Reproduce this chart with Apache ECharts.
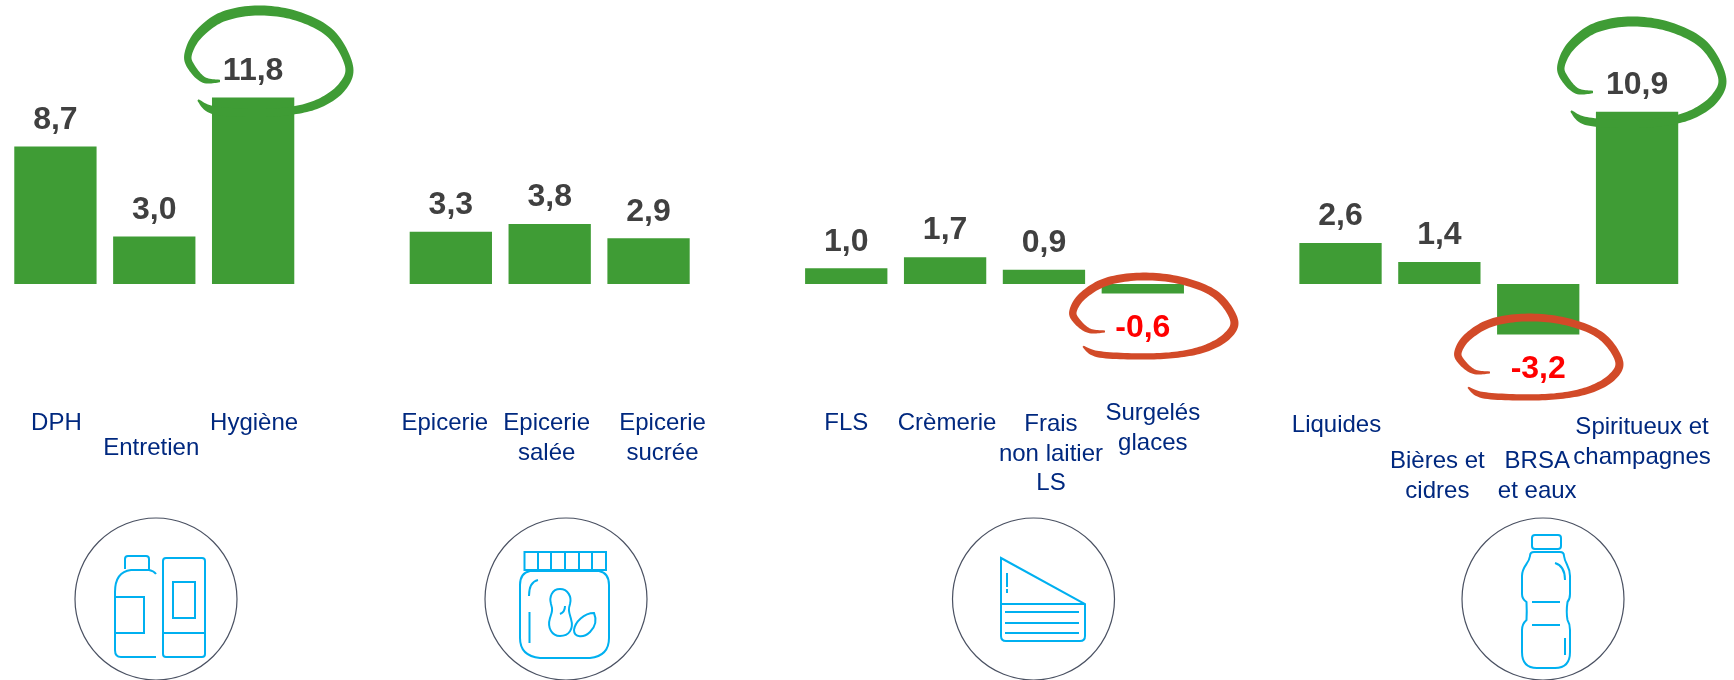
<!DOCTYPE html>
<html>
<head>
<meta charset="utf-8">
<style>
  html, body { margin: 0; padding: 0; background: #ffffff; }
  #main { width: 1734px; height: 680px; }
</style>
<script src="https://cdn.jsdelivr.net/npm/echarts@6/dist/echarts.min.js"></script>
</head>
<body>
<div id="main"></div>
<script>
// les cases vides separent les 4 rayons
const categories = [
  'DPH', 'Entretien', 'Hygiène', '',
  'Epicerie', 'Epicerie\nsalée', 'Epicerie\nsucrée', '',
  'FLS', 'Crèmerie', 'Frais\nnon laitier\nLS', 'Surgelés\nglaces', '',
  'Liquides', 'Bières et\ncidres', 'BRSA\net eaux', 'Spiritueux et\nchampagnes'
];
const values = [
  8.7, 3.0, 11.8, null,
  3.3, 3.8, 2.9, null,
  1.0, 1.7, 0.9, -0.6, null,
  2.6, 1.4, -3.2, 10.9
];

// decalage des libelles par rapport au centre de la barre
const labelDx = [1, -3, 1, 0, -6, -3, 14, 0, 0, 2, 7, 10, 0, -4, -2, -1, 5];
const labelDy = [10, 35, 10, 0, 10, 10, 10, 0, 10, 10, 11, 0, 0, 12, 48, 48, 14];

const GREEN = '#3f9c35';
const RED = '#d24a28';
const ICON = '#00b0f0';

// trait au feutre : x, y, epaisseur
const brushStroke = [
  [220, 81, 2.5], [204, 80, 6], [192, 68, 7.5], [188, 55, 7.5], [198, 35, 9], [222, 17, 10],
  [258, 10.5, 10], [297, 16, 9.5], [331, 34, 9], [349, 66, 8], [342, 87, 9], [320, 103, 9],
  [290, 111, 8], [253, 113, 8], [213, 110, 8], [198, 100, 2]
];
const brushMarks = [
  { color: GREEN, x: 0, y: 0, scaleY: 1 },
  { color: GREEN, x: 1373, y: 11, scaleY: 1 },
  { color: RED, x: 885, y: 268.3, scaleY: 0.78 },
  { color: RED, x: 1270, y: 309.3, scaleY: 0.78 }
];

const rings = [[156, 599], [566, 599], [1033.5, 599], [1543, 599]];
const iconPaths = [
  // flacon + tube
  'M125,569 V559 Q125,556 128,556 H146 Q149,556 149,559 V570 ' +
  'M156,574 Q154,571 149,570 H131 Q115,572 115,592 V650 Q115,657 121,657 H156 ' +
  'M115,597 H144 V633 H115 ' +
  'M166,558 H202 Q205,558 205,561 V654 Q205,657 202,657 H166 Q163,657 163,654 V561 Q163,558 166,558 Z ' +
  'M173,582 H195 V618 H173 Z M163,633 H205',
  // bocal
  'M524.5,552 H606 V570 H524.5 Z M538,552 V570 M551,552 V570 M565,552 V570 M579,552 V570 M592,552 V570 ' +
  'M530,571 H599 Q609,573 609,585 V638 Q609,656 590,658 H540 Q520,656 520,638 V585 Q520,573 530,571 Z ' +
  'M538,580 Q529,582 529,596 M529.5,612 V643 ' +
  'M560,589 C552,589 549,597 551,604 C553,610 552,612 550,618 C547,628 552,636 560,636 C569,636 574,629 571,619 ' +
  'C569,612 568,610 570,604 C572,597 568,589 560,589 Z M565,606 Q565,612 560,614 ' +
  'M594,613 C584,613 575,622 574,630 C574,638 584,638 590,632 C595,627 597,620 594,613 Z',
  // fromage
  'M1001,558 L1085,604 V636 Q1085,641 1080,641 H1006 Q1001,641 1001,636 Z M1001,604 H1085 ' +
  'M1005,612 H1079 M1005,623 H1079 M1005,633 H1079 M1007,573 V587 M1007,589 V593',
  // bouteille
  'M1535,535 H1558 Q1561,535 1561,538 V546 Q1561,549 1558,549 H1535 Q1532,549 1532,546 V538 Q1532,535 1535,535 Z ' +
  'M1534,552 H1560 Q1564,552 1564,556 C1565,564 1570,566 1570,576 V594 Q1570,599 1567.5,602 Q1566,612 1567.5,620 ' +
  'Q1570,624 1570,630 V652 Q1570,668 1555,668 H1537 Q1522,668 1522,652 V630 Q1522,624 1526.5,620 Q1527,612 1526.5,602 ' +
  'Q1522,599 1522,594 V576 C1522,566 1529,564 1530,556 Q1530,552 1534,552 Z ' +
  'M1532,602 H1560 M1532,625 H1560 M1555,563 Q1565,566 1565,580 M1565,638 V655'
];

// lisse le trait (catmull-rom) et le ferme en polygone d'epaisseur variable
function brushPolygon(pts) {
  const center = [];
  for (let i = 0; i < pts.length - 1; i++) {
    const p0 = pts[Math.max(i - 1, 0)];
    const p1 = pts[i];
    const p2 = pts[i + 1];
    const p3 = pts[Math.min(i + 2, pts.length - 1)];
    for (let k = 0; k < 12; k++) {
      const t = k / 12;
      const c = [0, 1, 2].map(function (j) {
        return 0.5 * (2 * p1[j] + (p2[j] - p0[j]) * t +
          (2 * p0[j] - 5 * p1[j] + 4 * p2[j] - p3[j]) * t * t +
          (3 * p1[j] - p0[j] - 3 * p2[j] + p3[j]) * t * t * t);
      });
      center.push(c);
    }
  }
  center.push(pts[pts.length - 1]);
  const a = [];
  const b = [];
  center.forEach(function (c, i) {
    const prev = center[Math.max(i - 1, 0)];
    const next = center[Math.min(i + 1, center.length - 1)];
    const dx = next[0] - prev[0];
    const dy = next[1] - prev[1];
    const len = Math.sqrt(dx * dx + dy * dy) || 1;
    a.push([c[0] - dy / len * c[2] / 2, c[1] + dx / len * c[2] / 2]);
    b.push([c[0] + dy / len * c[2] / 2, c[1] - dx / len * c[2] / 2]);
  });
  return a.concat(b.reverse());
}

const brushPoints = brushPolygon(brushStroke);
const graphics = [];
brushMarks.forEach(function (m) {
  graphics.push({
    type: 'polygon', z: 10, x: m.x, y: m.y, scaleY: m.scaleY,
    shape: { points: brushPoints },
    style: { fill: m.color }
  });
});
rings.forEach(function (r) {
  graphics.push({
    type: 'circle', z: 5,
    shape: { cx: r[0], cy: r[1], r: 81 },
    style: { fill: 'none', stroke: '#4a5162', lineWidth: 1.2 }
  });
});

const chart = echarts.init(document.getElementById('main'));

const option = {
  backgroundColor: '#ffffff',
  animation: false,
  graphic: graphics,
  grid: { left: 6, top: 31.2, width: 1680.5, height: 347.6 },
  xAxis: {
    type: 'category',
    data: categories.map(function (c, i) {
      const dx = labelDx[i];
      return {
        value: c,
        textStyle: { padding: [labelDy[i], dx < 0 ? -2 * dx : 0, 0, dx > 0 ? 2 * dx : 0] }
      };
    }),
    axisLine: { show: false },
    axisTick: { show: false },
    axisLabel: {
      interval: 0,
      hideOverlap: false,
      margin: 20,
      color: '#00287f',
      fontFamily: 'Liberation Sans',
      fontSize: 24,
      lineHeight: 29.5
    }
  },
  yAxis: {
    type: 'value',
    min: -6,
    max: 16,
    show: false
  },
  series: [{
    type: 'bar',
    barWidth: 82.3,
    itemStyle: { color: GREEN },
    label: {
      show: true,
      fontFamily: 'Liberation Sans',
      fontWeight: 'bold',
      fontSize: 32
    },
    data: values.map(function (v) {
      if (v === null) return null;
      const neg = v < 0;
      return {
        value: v,
        label: {
          position: neg ? 'bottom' : 'top',
          distance: neg ? 19 : 10.5,
          color: neg ? '#ff0000' : '#404040',
          formatter: function () { return v.toFixed(1).replace('.', ','); }
        }
      };
    })
  }, {
    // pictogrammes : le type path n'existe que dans une serie custom
    type: 'custom',
    coordinateSystem: 'none',
    silent: true,
    z: 6,
    data: [0],
    renderItem: function () {
      return {
        type: 'group',
        children: iconPaths.map(function (d) {
          return {
            type: 'path',
            shape: { pathData: d },
            style: { fill: 'none', stroke: ICON, lineWidth: 2 }
          };
        })
      };
    }
  }]
};

chart.setOption(option);
</script>
</body>
</html>
